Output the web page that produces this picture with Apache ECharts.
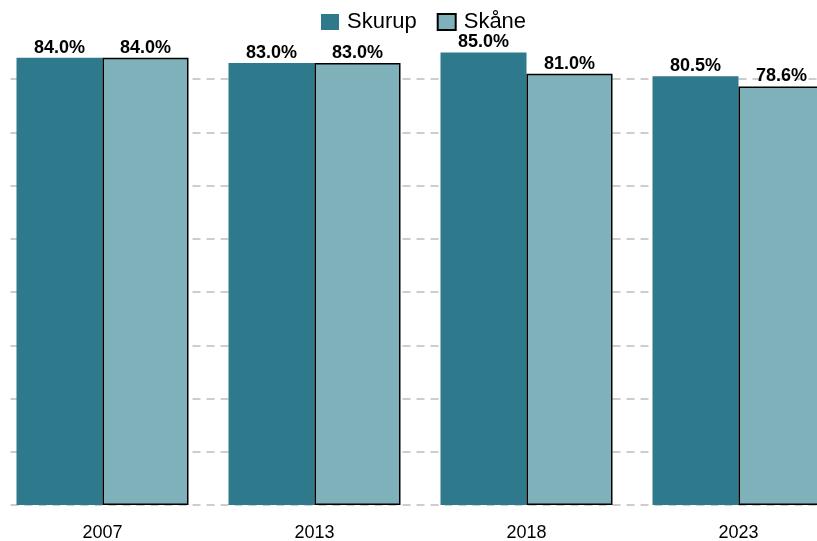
<!DOCTYPE html>
<html>
<head>
<meta charset="utf-8">
<script src="https://cdn.jsdelivr.net/npm/echarts@6/dist/echarts.min.js"></script>
<style>
  html, body { margin: 0; padding: 0; background: #fff; }
  #chart { width: 817px; height: 541px; }
</style>
</head>
<body>
<div id="chart"></div>
<script>
// år och andelar (%)
const years = ['2007', '2013', '2018', '2023']
const skurup = [84.0, 83.0, 85.0, 80.5]
const skane = [84.0, 83.0, 81.0, 78.6]

const chart = echarts.init(document.getElementById('chart'))

function barLabel () {
  return {
    show: true,
    position: 'top',
    distance: 1,
    fontFamily: 'Liberation Sans',
    fontSize: 18,
    fontWeight: 'bold',
    color: '#000',
    formatter: p => p.value.toFixed(1) + '%'
  }
}

chart.setOption({
  animation: false,
  legend: {
    top: 11,
    left: 321,
    padding: 0,
    icon: 'rect',
    itemWidth: 18,
    itemHeight: 16,
    itemGap: 20,
    textStyle: { fontFamily: 'Liberation Sans', fontSize: 22, color: '#000', padding: [0, 0, 0, 3] },
    data: ['Skurup', 'Skåne']
  },
  grid: { left: -3.5, width: 848, top: 52.4, bottom: 36, outerBoundsMode: 'none' },
  xAxis: {
    type: 'category',
    data: years,
    axisLine: { show: false },
    axisTick: { show: false },
    axisLabel: { fontFamily: 'Liberation Sans', fontSize: 18, color: '#000', margin: 19 }
  },
  yAxis: {
    type: 'value',
    min: 0,
    max: 85,
    interval: 10,
    axisLabel: { show: false },
    axisLine: { show: false },
    axisTick: { show: false },
    splitLine: {
      showMaxLine: false,
      lineStyle: { color: '#bdbdbd', type: [8, 6], width: 1.5 }
    }
  },
  graphic: [{
    type: 'rect',
    shape: { x: 0, y: 40, width: 8, height: 480 },
    style: { fill: '#fff' },
    z: 100
  }],
  series: [
    {
      name: 'Skurup',
      type: 'bar',
      data: skurup,
      barWidth: 86,
      barGap: '0%',
      itemStyle: { color: '#2e798b' },
      label: barLabel()
    },
    {
      name: 'Skåne',
      type: 'bar',
      data: skane,
      barWidth: 86,
      itemStyle: { color: '#7fb1bb', borderColor: '#000', borderWidth: 1.5 },
      label: barLabel()
    }
  ]
})
</script>
</body>
</html>
